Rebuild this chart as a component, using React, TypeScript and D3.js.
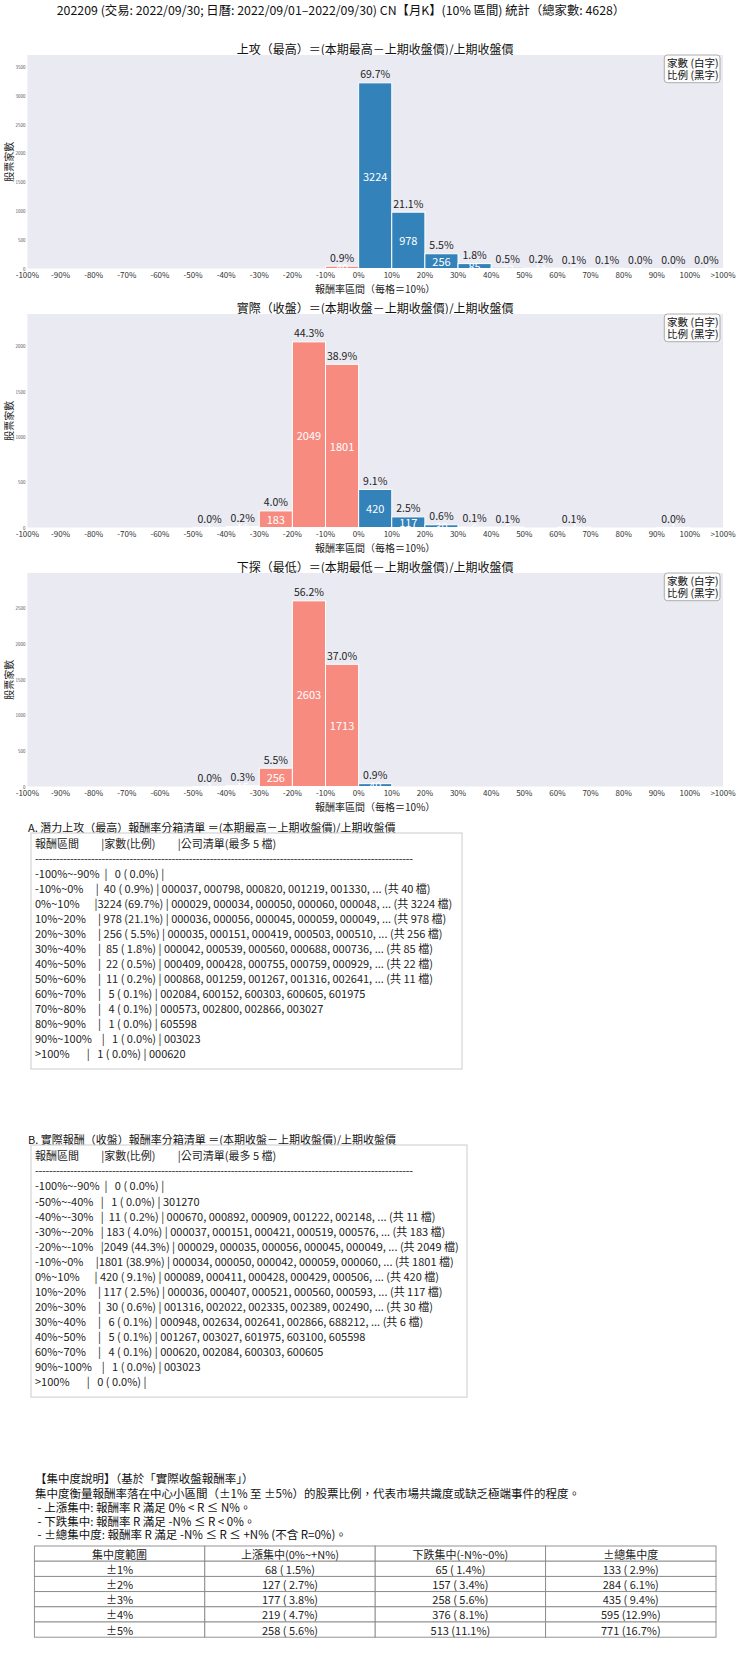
import React from 'react';
import * as d3 from 'd3';

const TOTAL = 4628;
const mainTitle = '202209 (交易: 2022/09/30; 日曆: 2022/09/01–2022/09/30) CN【月K】(10% 區間) 統計（總家數: 4628）';
const chartTitles = [
  '上攻（最高）＝(本期最高－上期收盤價)/上期收盤價',
  '實際（收盤）＝(本期收盤－上期收盤價)/上期收盤價',
  '下探（最低）＝(本期最低－上期收盤價)/上期收盤價',
];
const legendLines = ['家數 (白字)', '比例 (黑字)'];
const tickLabels = ['-100%', '-90%', '-80%', '-70%', '-60%', '-50%', '-40%', '-30%', '-20%', '-10%', '0%', '10%', '20%', '30%', '40%', '50%', '60%', '70%', '80%', '90%', '100%', '>100%'];
const binLabels = ['-100%~-90%', '-90%~-80%', '-80%~-70%', '-70%~-60%', '-60%~-50%', '-50%~-40%', '-40%~-30%', '-30%~-20%', '-20%~-10%', '-10%~0%', '0%~10%', '10%~20%', '20%~30%', '30%~40%', '40%~50%', '50%~60%', '60%~70%', '70%~80%', '80%~90%', '90%~100%', '>100%'];
const highCounts = [0, 0, 0, 0, 0, 0, 0, 0, 0, 40, 3224, 978, 256, 85, 22, 11, 5, 4, 1, 1, 1];
const closeCounts = [0, 0, 0, 0, 0, 1, 11, 183, 2049, 1801, 420, 117, 30, 6, 5, 0, 4, 0, 0, 1, 0];
const lowCounts = [0, 0, 0, 0, 0, 1, 15, 256, 2603, 1713, 40, 0, 0, 0, 0, 0, 0, 0, 0, 0, 0];

const highCodes: string[][] = [
  [], [], [], [], [], [], [], [], [],
  ['000037', '000798', '000820', '001219', '001330'],
  ['000029', '000034', '000050', '000060', '000048'],
  ['000036', '000056', '000045', '000059', '000049'],
  ['000035', '000151', '000419', '000503', '000510'],
  ['000042', '000539', '000560', '000688', '000736'],
  ['000409', '000428', '000755', '000759', '000929'],
  ['000868', '001259', '001267', '001316', '002641'],
  ['002084', '600152', '600303', '600605', '601975'],
  ['000573', '002800', '002866', '003027'],
  ['605598'],
  ['003023'],
  ['000620'],
];
const closeCodes: string[][] = [
  [], [], [], [], [],
  ['301270'],
  ['000670', '000892', '000909', '001222', '002148'],
  ['000037', '000151', '000421', '000519', '000576'],
  ['000029', '000035', '000056', '000045', '000049'],
  ['000034', '000050', '000042', '000059', '000060'],
  ['000089', '000411', '000428', '000429', '000506'],
  ['000036', '000407', '000521', '000560', '000593'],
  ['001316', '002022', '002335', '002389', '002490'],
  ['000948', '002634', '002641', '002866', '688212'],
  ['001267', '003027', '601975', '603100', '605598'],
  [],
  ['000620', '002084', '600303', '600605'],
  [], [],
  ['003023'],
  [],
];

const listTitles = [
  'A. 潛力上攻（最高）報酬率分箱清單 ＝(本期最高－上期收盤價)/上期收盤價',
  'B. 實際報酬（收盤）報酬率分箱清單 ＝(本期收盤－上期收盤價)/上期收盤價',
];
const listHeader = '報酬區間         |家數(比例)         |公司清單(最多 5 檔)';

const concNotes = [
  '【集中度說明】（基於「實際收盤報酬率」）',
  '集中度衡量報酬率落在中心小區間（±1% 至 ±5%）的股票比例，代表市場共識度或缺乏極端事件的程度。',
  ' - 上漲集中: 報酬率 R 滿足 0% < R ≤ N%。',
  ' - 下跌集中: 報酬率 R 滿足 -N% ≤ R < 0%。',
  ' - ±總集中度: 報酬率 R 滿足 -N% ≤ R ≤ +N% (不含 R=0%)。',
];
const concHeader = ['集中度範圍', '上漲集中(0%~+N%)', '下跌集中(-N%~0%)', '±總集中度'];
const concRanges = ['±1%', '±2%', '±3%', '±4%', '±5%'];
const concUp = [68, 127, 177, 219, 258];
const concDown = [65, 157, 258, 376, 513];
const concAll = [133, 284, 435, 595, 771];

const FONT = '"Noto Sans CJK TC", "Noto Sans CJK SC", sans-serif';
const BLUE = '#3382ba';
const PINK = '#f88b7f';
const BG = '#eaeaf2';

const fmtPct = (n: number) => ((n / TOTAL) * 100).toFixed(1).padStart(4, ' ');

const PLOT_L = 27.4;
const PLOT_R = 723;
const PLOT_H = 213.5;

function Hist({ top, counts, title, idx }: { top: number; counts: number[]; title: string; idx: number }) {
  const bottom = top + PLOT_H;
  const ymax = (d3.max(counts) as number) * 1.15;
  const x = d3.scaleLinear().domain([0, counts.length]).range([PLOT_L, PLOT_R]);
  const y = d3.scaleLinear().domain([0, ymax]).range([bottom, top]);
  const yTicks = d3.range(0, ymax, 500);
  const clipId = 'plotclip' + idx;
  return (
    <g>
      <defs>
        <clipPath id={clipId}>
          <rect x={PLOT_L} y={top} width={PLOT_R - PLOT_L} height={PLOT_H} />
        </clipPath>
      </defs>
      <text x={(PLOT_L + PLOT_R) / 2} y={top - 7} textAnchor="middle" dominantBaseline="central" fontSize={12} fill="#111">{title}</text>
      <rect x={PLOT_L} y={top} width={PLOT_R - PLOT_L} height={PLOT_H} fill={BG} />
      {yTicks.map((t) => (
        <text key={t} x={25.5} y={y(t)} textAnchor="end" dominantBaseline="central" fontSize={4.5} fill="#555">{t}</text>
      ))}
      <text transform={`translate(8,${(top + bottom) / 2}) rotate(-90)`} textAnchor="middle" dominantBaseline="central" fontSize={10} fill="#222">股票家數</text>
      {counts.map((c, i) => c > 0 ? (
        <rect key={'b' + i} x={x(i)} y={y(c)} width={x(i + 1) - x(i)} height={bottom - y(c)} fill={i < 10 ? PINK : BLUE} stroke="#fff" strokeWidth={1} />
      ) : null)}
      <g clipPath={`url(#${clipId})`}>
        {counts.map((c, i) => c > 0 ? (
          <text key={'c' + i} x={(x(i) + x(i + 1)) / 2} y={(y(c) + bottom) / 2} textAnchor="middle" dominantBaseline="central" fontSize={11} fill="#fff">{c}</text>
        ) : null)}
      </g>
      {counts.map((c, i) => c > 0 ? (
        <text key={'p' + i} x={(x(i) + x(i + 1)) / 2} y={y(c) - 4.5} textAnchor="middle" fontSize={10.5} fill="#222">{fmtPct(c).trim()}%</text>
      ) : null)}
      {tickLabels.map((t, i) => (
        <text key={'t' + i} x={x(i)} y={bottom + 6} textAnchor="middle" dominantBaseline="central" fontSize={8} fill="#333">{t}</text>
      ))}
      <text x={(PLOT_L + PLOT_R) / 2} y={bottom + 20} textAnchor="middle" dominantBaseline="central" fontSize={10} fill="#222">報酬率區間（每格＝10%）</text>
      <rect x={664.3} y={top} width={55.7} height={27.7} rx={3} fill="#fff" fillOpacity={0.85} stroke="#999" strokeWidth={0.8} />
      {legendLines.map((l, i) => (
        <text key={'l' + i} x={692.8} y={top + 7.7 + i * 11.3} textAnchor="middle" dominantBaseline="central" fontSize={10.5} fill="#111" xmlSpace="preserve" style={{ whiteSpace: 'pre' }}>{l}</text>
      ))}
    </g>
  );
}

function listRows(counts: number[], codes: string[][]): string[] {
  const rows: string[] = [];
  counts.forEach((c, i) => {
    if (c === 0 && i !== 0 && i !== counts.length - 1) return;
    let s = binLabels[i].padEnd(12, ' ') + '|' + String(c).padStart(4, ' ') + ' (' + fmtPct(c) + '%) | ' + codes[i].join(', ');
    if (c > 5) s += ', ... (共 ' + c + ' 檔)';
    rows.push(s);
  });
  return rows;
}

function ListBlock({ top, title, counts, codes, boxW, pitch }: { top: number; title: string; counts: number[]; codes: string[][]; boxW: number; pitch: number }) {
  const rows = listRows(counts, codes);
  const boxTop = top + 6;
  const lines = [listHeader, '-'.repeat(108), ...rows];
  const boxH = 10 + lines.length * pitch + 1;
  return (
    <g>
      <text x={28} y={top} dominantBaseline="central" fontSize={11} fill="#111">{title}</text>
      <rect x={31} y={boxTop} width={boxW} height={boxH} fill="#fff" stroke="#ccc" strokeWidth={1} />
      {lines.map((l, i) => (
        <text key={i} x={35} y={boxTop + 10.3 + i * pitch} dominantBaseline="central" fontSize={11} fill="#222" xmlSpace="preserve" style={{ whiteSpace: 'pre' }} {...(i === 1 ? { textLength: 378, lengthAdjust: 'spacing' } : {})}>{l}</text>
      ))}
    </g>
  );
}

function ConcTable({ top }: { top: number }) {
  const left = 34.4, right = 716, rowH = 15.2;
  const colW = (right - left) / 4;
  const rows = [concHeader, ...concRanges.map((r, i) => [
    r,
    `${concUp[i]} (${fmtPct(concUp[i])}%)`,
    `${concDown[i]} (${fmtPct(concDown[i])}%)`,
    `${concAll[i]} (${fmtPct(concAll[i])}%)`,
  ])];
  return (
    <g>
      {rows.map((r, ri) => r.map((c, ci) => (
        <g key={ri + '-' + ci}>
          <rect x={left + ci * colW} y={top + ri * rowH} width={colW} height={rowH} fill="#fff" stroke="#888" strokeWidth={0.9} />
          <text x={left + ci * colW + colW / 2} y={top + ri * rowH + rowH / 2} textAnchor="middle" dominantBaseline="central" fontSize={11} fill="#222" xmlSpace="preserve" style={{ whiteSpace: 'pre' }}>{c}</text>
        </g>
      )))}
    </g>
  );
}

export default function App() {
  const series = [highCounts, closeCounts, lowCounts];
  const tops = [55, 314, 573];
  return (
    <div style={{ position: 'absolute', left: 0, top: 0 }}>
      <svg width={740} height={1660} viewBox="0 0 740 1660" style={{ display: 'block', fontFamily: FONT, background: '#fff' }}>
        <rect x={0} y={0} width={740} height={1660} fill="#fff" />
        <text x={341} y={9.5} textAnchor="middle" dominantBaseline="central" fontSize={12.35} fill="#111">{mainTitle}</text>
        {series.map((s, i) => (
          <Hist key={i} idx={i} top={tops[i]} counts={s} title={chartTitles[i]} />
        ))}
        <ListBlock top={827} title={listTitles[0]} counts={highCounts} codes={highCodes} boxW={431} pitch={15} />
        <ListBlock top={1139} title={listTitles[1]} counts={closeCounts} codes={closeCodes} boxW={436} pitch={15.07} />
        {concNotes.map((t, i) => (
          <text key={i} x={35} y={[1478, 1493, 1507, 1521, 1534][i]} dominantBaseline="central" fontSize={11.5} fill="#111" xmlSpace="preserve" style={{ whiteSpace: 'pre' }}>{t}</text>
        ))}
        <ConcTable top={1546} />
      </svg>
    </div>
  );
}
